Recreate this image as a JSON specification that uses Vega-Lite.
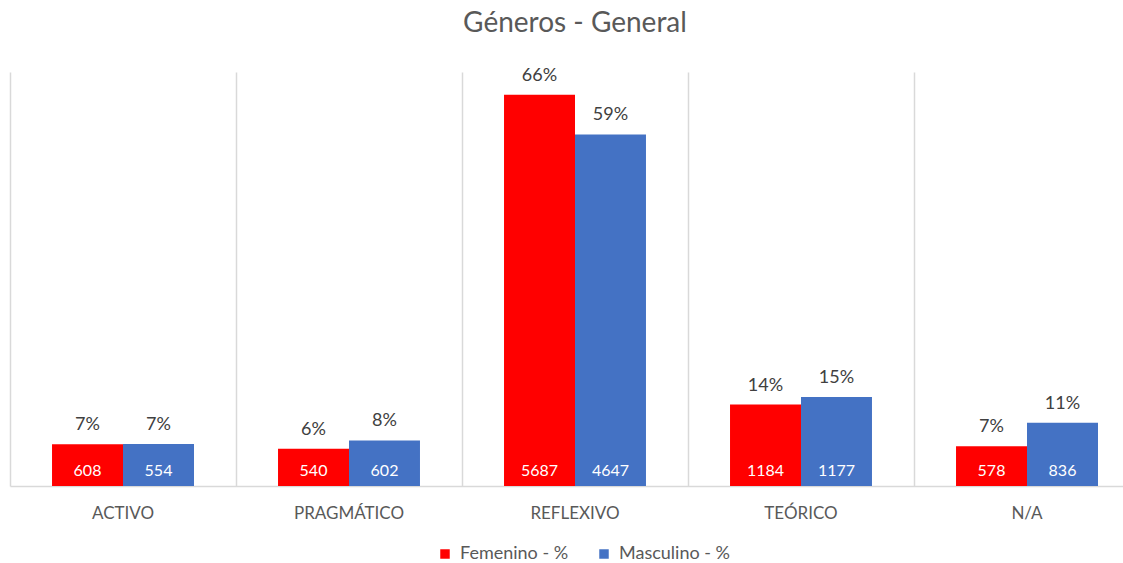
{
  "$schema": "https://vega.github.io/schema/vega-lite/v6.json",
  "autosize": {"type": "none"},
  "width": 1130,
  "height": 414,
  "padding": {"left": 10, "top": 72, "right": 0, "bottom": 77},
  "background": "white",
  "config": {
    "view": {"stroke": null},
    "font": "Lato",
    "text": {"font": "Lato"}
  },
  "title": {
    "text": "Géneros - General",
    "fontSize": 28,
    "fontWeight": "normal",
    "color": "#595959",
    "font": "Lato",
    "anchor": "middle",
    "baseline": "alphabetic",
    "offset": 7
  },
  "data": {
    "values": [
      {"estilo": "ACTIVO", "genero": "Femenino - %", "n": 608, "pct": 0.0707},
      {"estilo": "ACTIVO", "genero": "Masculino - %", "n": 554, "pct": 0.0709},
      {"estilo": "PRAGMÁTICO", "genero": "Femenino - %", "n": 540, "pct": 0.0628},
      {"estilo": "PRAGMÁTICO", "genero": "Masculino - %", "n": 602, "pct": 0.0770},
      {"estilo": "REFLEXIVO", "genero": "Femenino - %", "n": 5687, "pct": 0.6615},
      {"estilo": "REFLEXIVO", "genero": "Masculino - %", "n": 4647, "pct": 0.5945},
      {"estilo": "TEÓRICO", "genero": "Femenino - %", "n": 1184, "pct": 0.1377},
      {"estilo": "TEÓRICO", "genero": "Masculino - %", "n": 1177, "pct": 0.1506},
      {"estilo": "N/A", "genero": "Femenino - %", "n": 578, "pct": 0.0672},
      {"estilo": "N/A", "genero": "Masculino - %", "n": 836, "pct": 0.1070}
    ]
  },
  "encoding": {
    "x": {
      "field": "estilo",
      "type": "nominal",
      "sort": ["ACTIVO", "PRAGMÁTICO", "REFLEXIVO", "TEÓRICO", "N/A"],
      "scale": {"paddingInner": 0, "paddingOuter": 0},
      "axis": {
        "title": null,
        "labelAngle": 0,
        "grid": true,
        "gridColor": "#d9d9d9",
        "gridWidth": 1.5,
        "bandPosition": 0,
        "ticks": false,
        "domainColor": "#d9d9d9",
        "domainWidth": 1.5,
        "labelPadding": 19,
        "labelFontSize": 17,
        "labelColor": "#595959",
        "labelFont": "Lato"
      }
    },
    "xOffset": {
      "field": "genero",
      "type": "nominal",
      "scale": {"paddingInner": 0, "paddingOuter": 0.592}
    }
  },
  "layer": [
    {
      "mark": {"type": "bar"},
      "encoding": {
        "y": {"field": "pct", "type": "quantitative", "scale": {"domain": [0, 0.7]}, "axis": null},
        "color": {
          "field": "genero",
          "type": "nominal",
          "scale": {"domain": ["Femenino - %", "Masculino - %"], "range": ["#FF0000", "#4472C4"]},
          "legend": {
            "title": null,
            "orient": "none",
            "legendX": 426,
            "legendY": 473,
            "direction": "horizontal",
            "symbolType": "square",
            "symbolSize": 90,
            "symbolStrokeWidth": 0,
            "labelFontSize": 18,
            "labelColor": "#595959",
            "labelFont": "Lato",
            "labelOffset": 6,
            "columnPadding": 26
          }
        }
      }
    },
    {
      "mark": {"type": "text", "baseline": "alphabetic", "dy": -14, "fontSize": 18, "color": "#404040"},
      "encoding": {
        "y": {"field": "pct", "type": "quantitative"},
        "text": {"field": "pct", "type": "quantitative", "format": ".0%"}
      }
    },
    {
      "mark": {"type": "text", "baseline": "alphabetic", "dy": -10, "fontSize": 16, "color": "white"},
      "encoding": {
        "y": {"datum": 0, "type": "quantitative"},
        "text": {"field": "n", "type": "quantitative", "format": "d"}
      }
    }
  ]
}
